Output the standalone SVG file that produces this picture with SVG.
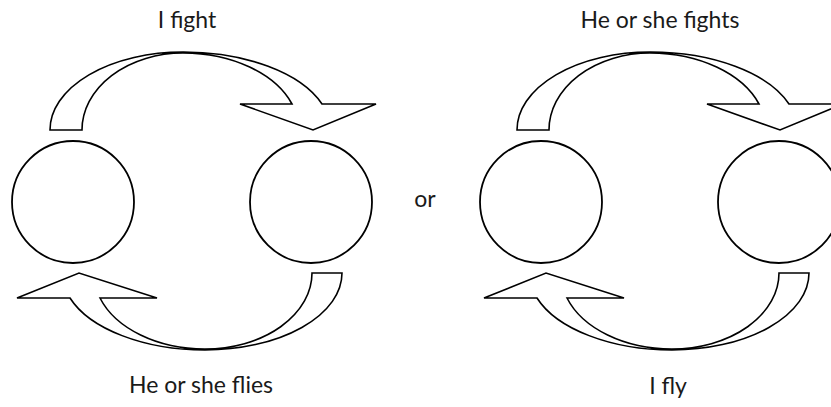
<svg xmlns="http://www.w3.org/2000/svg" width="831" height="407" viewBox="0 0 831 407">
<style>
.bg{fill:#ffffff}
.arr{fill:#ffffff;stroke:#000000;stroke-width:1.6;stroke-linejoin:miter}
.node{fill:#ffffff;stroke:#000000;stroke-width:1.8}
.lbl{font-family:Lato,"Liberation Sans",sans-serif;font-size:23px;fill:#1a1a1a;text-anchor:middle}
</style>
<defs>
<path id="topArrow" d="M50,130 A133,78 0 0 1 183,52 A147,78 0 0 1 322,104 L376,104 L313,130 L240,104 L292,104 A116,77 0 0 0 183,53 A101,77 0 0 0 82,130 Z"/>
<path id="botArrow" d="M342,273 A137,77 0 0 1 205,350 A143,77 0 0 1 70,298 L17,298 L79,273 L157,298 L100,298 A111,76 0 0 0 205,349 A107,76 0 0 0 312,273 Z"/>
</defs>
<rect class="bg" x="0" y="0" width="831" height="407"/>
<g id="connectors">
<use href="#topArrow" class="arr"/>
<use href="#botArrow" class="arr"/>
<use href="#topArrow" class="arr" transform="translate(467,0)"/>
<use href="#botArrow" class="arr" transform="translate(467,0)"/>
</g>
<g id="node-left-a"><circle class="node" cx="73" cy="202" r="61"/></g>
<g id="node-left-b"><circle class="node" cx="311" cy="202" r="61"/></g>
<g id="node-right-a"><circle class="node" cx="541" cy="202" r="61"/></g>
<g id="node-right-b"><circle class="node" cx="779" cy="202" r="61"/></g>
<g id="labels">
<text class="lbl" x="187" y="28">I fight</text>
<text class="lbl" x="660" y="28">He or she fights</text>
<text class="lbl" x="425" y="207">or</text>
<text class="lbl" x="201" y="393">He or she flies</text>
<text class="lbl" x="668" y="394">I fly</text>
</g>
</svg>
